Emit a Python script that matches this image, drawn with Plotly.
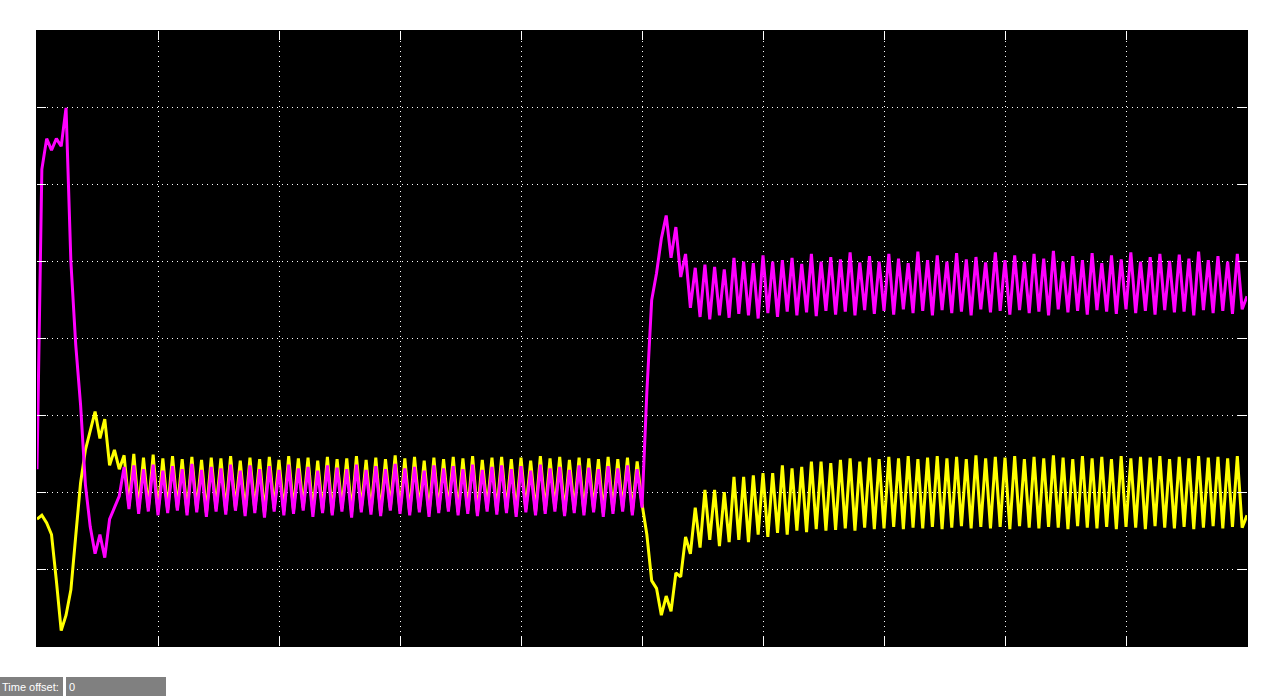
import numpy as np
import plotly.graph_objects as go

# sample interval (s) of the scope trace
dt = 0.004

# ---- magenta trace ----
mag_startup = [0.3, 4.2, 4.6, 4.45, 4.6, 4.5, 5.0, 3.0, 1.92, 1.14,
               0.1, -0.45, -0.8, -0.55, -0.85, -0.35, -0.2, -0.05]
mag_steady1 = [0.33, -0.22, 0.35, -0.28, 0.3, -0.25, 0.36, -0.3, 0.28, -0.27,
               0.34, -0.24, 0.3, -0.3, 0.37, -0.26, 0.29, -0.32, 0.33, -0.25,
               0.31, -0.29, 0.36, -0.24, 0.28, -0.31, 0.35, -0.27, 0.3, -0.33,
               0.34, -0.25, 0.29, -0.3, 0.36, -0.28, 0.31, -0.24, 0.33, -0.32,
               0.28, -0.27, 0.35, -0.3, 0.32, -0.25, 0.3, -0.33, 0.36, -0.26,
               0.29, -0.29, 0.34, -0.31, 0.3, -0.24, 0.37, -0.28, 0.31, -0.3,
               0.33, -0.26, 0.28, -0.32, 0.35, -0.27, 0.31, -0.25, 0.34, -0.3,
               0.3, -0.28, 0.36, -0.31, 0.29, -0.25, 0.33, -0.29, 0.35, -0.27,
               0.3, -0.32, 0.34, -0.26, 0.28, -0.3, 0.36, -0.28, 0.31, -0.25,
               0.33, -0.31, 0.29, -0.27, 0.35, -0.3, 0.32, -0.26, 0.3, -0.32,
               0.34, -0.28, 0.31, -0.25, 0.35, -0.3, 0.3]
mag_step = [-0.2, 1.3, 2.5, 2.85, 3.3, 3.6, 3.05, 3.45, 2.8, 3.1, 2.4]
mag_steady2 = [2.92, 2.28, 2.96, 2.25, 2.93, 2.3, 2.9, 2.27, 3.05, 2.32,
               3.0, 2.3, 2.98, 2.26, 3.08, 2.33, 3.0, 2.28, 3.02, 2.35,
               3.05, 2.3, 2.97, 2.34, 3.1, 2.29, 3.0, 2.36, 3.06, 2.31,
               3.03, 2.35, 3.12, 2.3, 2.99, 2.37, 3.07, 2.32, 3.0, 2.36,
               3.1, 2.31, 3.04, 2.38, 2.98, 2.33, 3.13, 2.36, 3.02, 2.3,
               3.08, 2.37, 3.0, 2.33, 3.11, 2.35, 3.03, 2.3, 3.06, 2.38,
               2.99, 2.34, 3.12, 2.36, 3.02, 2.31, 3.08, 2.37, 3.0, 2.33,
               3.1, 2.35, 3.04, 2.3, 3.14, 2.38, 3.0, 2.34, 3.07, 2.36,
               3.02, 2.31, 3.11, 2.37, 2.98, 2.35, 3.08, 2.32, 3.03, 2.38,
               3.12, 2.33, 3.0, 2.36, 3.06, 2.31, 3.1, 2.37, 3.01, 2.34,
               3.09, 2.35, 3.04, 2.3, 3.13, 2.37, 3.02, 2.33, 3.07, 2.36,
               3.0, 2.32, 3.1, 2.38, 2.55]

# ---- yellow trace ----
yel_startup = [-0.35, -0.3, -0.4, -0.55, -1.15, -1.8, -1.6, -1.27, -0.57, 0.12,
               0.55, 0.82, 1.05, 0.7, 0.95, 0.35, 0.55, 0.3]
yel_steady1 = [0.48, -0.18, 0.5, -0.22, 0.45, -0.2, 0.49, -0.25, 0.44, -0.23,
               0.47, -0.2, 0.43, -0.26, 0.46, -0.22, 0.42, -0.27, 0.45, -0.21,
               0.44, -0.24, 0.47, -0.2, 0.41, -0.26, 0.45, -0.23, 0.43, -0.27,
               0.46, -0.21, 0.42, -0.25, 0.47, -0.23, 0.44, -0.2, 0.45, -0.26,
               0.41, -0.24, 0.46, -0.27, 0.43, -0.21, 0.44, -0.26, 0.47, -0.22,
               0.42, -0.25, 0.45, -0.27, 0.43, -0.2, 0.48, -0.24, 0.44, -0.26,
               0.46, -0.22, 0.41, -0.27, 0.45, -0.23, 0.43, -0.21, 0.46, -0.26,
               0.44, -0.24, 0.47, -0.27, 0.42, -0.21, 0.45, -0.25, 0.46, -0.23,
               0.43, -0.27, 0.45, -0.22, 0.41, -0.26, 0.47, -0.24, 0.44, -0.21,
               0.46, -0.27, 0.42, -0.23, 0.45, -0.26, 0.44, -0.22, 0.43, -0.27,
               0.46, -0.24, 0.43, -0.21, 0.45, -0.26, 0.4]
yel_step = [-0.15, -0.55, -1.15, -1.25, -1.6, -1.35, -1.55, -1.05, -1.1, -0.58, -0.8]
yel_steady2 = [-0.2, -0.72, 0.03, -0.62, 0.03, -0.7, 0.0, -0.65, 0.2, -0.62,
               0.2, -0.65, 0.22, -0.55, 0.25, -0.58, 0.25, -0.53, 0.35, -0.55,
               0.31, -0.5, 0.33, -0.52, 0.4, -0.48, 0.4, -0.5, 0.38, -0.49,
               0.42, -0.47, 0.44, -0.5, 0.4, -0.46, 0.45, -0.48, 0.43, -0.47,
               0.46, -0.45, 0.44, -0.48, 0.47, -0.46, 0.43, -0.47, 0.45, -0.45,
               0.47, -0.48, 0.44, -0.46, 0.46, -0.44, 0.43, -0.47, 0.48, -0.45,
               0.44, -0.47, 0.46, -0.45, 0.45, -0.48, 0.47, -0.44, 0.43, -0.46,
               0.46, -0.47, 0.44, -0.45, 0.48, -0.46, 0.45, -0.48, 0.43, -0.44,
               0.47, -0.46, 0.44, -0.47, 0.46, -0.45, 0.43, -0.48, 0.47, -0.45,
               0.44, -0.46, 0.46, -0.48, 0.45, -0.44, 0.47, -0.46, 0.43, -0.47,
               0.46, -0.45, 0.44, -0.48, 0.47, -0.46, 0.45, -0.44, 0.46, -0.47,
               0.44, -0.45, 0.47, -0.46, -0.3]

magenta = mag_startup + mag_steady1 + mag_step + mag_steady2
yellow = yel_startup + yel_steady1 + yel_step + yel_steady2
t_mag = np.arange(len(magenta)) * dt
t_yel = np.arange(len(yellow)) * dt

fig = go.Figure()
fig.add_trace(go.Scatter(x=t_yel, y=yellow, mode="lines",
                         line=dict(color="#FFFF00", width=3), hoverinfo="skip"))
fig.add_trace(go.Scatter(x=t_mag, y=magenta, mode="lines",
                         line=dict(color="#FF00FF", width=3), hoverinfo="skip"))

axis_common = dict(showgrid=True, gridcolor="white", griddash="1px,4px", gridwidth=1,
                   zeroline=False, showticklabels=False, ticks="inside",
                   ticklen=9, tickcolor="white", tickwidth=1, showline=True,
                   linecolor="black", mirror="ticks")
fig.update_xaxes(range=[0, 1], dtick=0.1, tick0=0, **axis_common)
fig.update_yaxes(range=[-2, 6], dtick=1, tick0=-2, **axis_common)

W, H = 1273, 696
L, R, T, B = 37, 26, 31, 50
pw, ph = W - L - R, H - T - B

def px(x):
    return (x - L) / pw

def py(y):
    return (H - B - y) / ph

fig.update_layout(
    width=W, height=H,
    margin=dict(l=L, r=R, t=T, b=B, pad=0),
    paper_bgcolor="white", plot_bgcolor="black",
    showlegend=False,
    shapes=[
        dict(type="rect", xref="paper", yref="paper", x0=px(0), x1=px(63),
             y0=py(677), y1=py(696), fillcolor="#808080", line=dict(width=0)),
        dict(type="rect", xref="paper", yref="paper", x0=px(66), x1=px(166),
             y0=py(677), y1=py(696), fillcolor="#808080", line=dict(width=0)),
    ],
    annotations=[
        dict(text="Time offset:", xref="paper", yref="paper", x=px(0), y=py(686.5),
             xanchor="left", yanchor="middle", showarrow=False,
             font=dict(family="Liberation Sans, Arial", size=11, color="white")),
        dict(text="0", xref="paper", yref="paper", x=px(67), y=py(686.5),
             xanchor="left", yanchor="middle", showarrow=False,
             font=dict(family="Liberation Sans, Arial", size=11, color="white")),
    ],
)

fig.write_html("out.html", config={"displayModeBar": False},
               post_script="document.body.style.margin='0';")
